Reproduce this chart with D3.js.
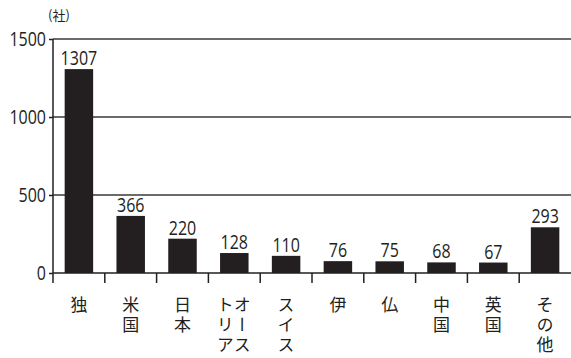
<!DOCTYPE html>
<html>
<head>
<meta charset="utf-8">
<script src="https://cdn.jsdelivr.net/npm/d3@7"></script>
<style>
  body { margin: 0; background: #fff; }
  .num { font-family: "Open Sans", "DejaVu Sans", sans-serif; fill: #231f20; }
  .jp { font-family: "Noto Sans CJK JP", sans-serif; fill: #231f20; }
</style>
</head>
<body>
<div id="chart"></div>
<script>
// countries (columns for vertical text, right column first)
var categories = ["独", "米国", "日本", "オーストリア", "スイス", "伊", "仏", "中国", "英国", "その他"];
var labelColumns = [["独"], ["米国"], ["日本"], ["オース", "トリア"], ["スイス"], ["伊"], ["仏"], ["中国"], ["英国"], ["その他"]];
var values = [1307, 366, 220, 128, 110, 76, 75, 68, 67, 293];
var yTicks = [0, 500, 1000, 1500];
var unitLabel = "(社)";

var W = 571, H = 358;
var margin = { top: 39, right: 0, bottom: 85, left: 53 };
var width = W - margin.left - margin.right;
var height = H - margin.top - margin.bottom;
var squeeze = 0.8; // condensed look for numbers

var svg = d3.select("#chart").append("svg")
    .attr("width", W)
    .attr("height", H)
    .append("g")
    .attr("transform", "translate(" + margin.left + "," + margin.top + ")");

var x = d3.scaleBand()
    .domain(categories)
    .range([0, width])
    .paddingInner(0.45)
    .paddingOuter(0.225);

var y = d3.scaleLinear()
    .domain([0, 1500])
    .range([height, 0]);

function numLabel(px, py, txt, anchor) {
    svg.append("text")
        .attr("class", "num")
        .attr("transform", "translate(" + px + "," + py + ") scale(" + squeeze + ",1)")
        .attr("text-anchor", anchor)
        .attr("font-size", 20)
        .text(txt);
}

// gridlines
svg.selectAll(".grid")
    .data(yTicks.filter(function(d){ return d > 0; }))
    .enter().append("line")
    .attr("x1", 0).attr("x2", width)
    .attr("y1", function(d){ return y(d); })
    .attr("y2", function(d){ return y(d); })
    .attr("stroke", "#3a3a3a")
    .attr("stroke-width", 1.5);

// bars
svg.selectAll(".bar")
    .data(values)
    .enter().append("rect")
    .attr("class", "bar")
    .attr("x", function(d, i){ return x(categories[i]); })
    .attr("width", x.bandwidth())
    .attr("y", function(d){ return y(d); })
    .attr("height", function(d){ return height - y(d); })
    .attr("fill", "#231f20");

// value labels
values.forEach(function(d, i){
    numLabel(x(categories[i]) + x.bandwidth() / 2, y(d) - 4, d, "middle");
});

// y axis
var yAxis = d3.axisLeft(y).tickValues(yTicks).tickSize(4).tickFormat(d3.format("d"));
var yg = svg.append("g").call(yAxis);
yg.select(".domain").remove();
yg.selectAll(".tick line").attr("stroke", "#231f20").attr("stroke-width", 1.5);
yg.selectAll(".tick text").remove();
yTicks.forEach(function(t){
    numLabel(-7, y(t) + 7, t, "end");
});

svg.append("line")
    .attr("x1", 0).attr("x2", 0)
    .attr("y1", 0).attr("y2", height + 10)
    .attr("stroke", "#231f20").attr("stroke-width", 1.5);

// x axis baseline and band separators
svg.append("line")
    .attr("x1", 0).attr("x2", width)
    .attr("y1", height).attr("y2", height)
    .attr("stroke", "#231f20").attr("stroke-width", 1.5);

var step = x.step();
var bounds = categories.slice(1).map(function(c){ return x(c) - x.paddingInner() * step / 2; });
svg.selectAll(".sep")
    .data(bounds)
    .enter().append("line")
    .attr("x1", function(d){ return d; }).attr("x2", function(d){ return d; })
    .attr("y1", height).attr("y2", height + 10)
    .attr("stroke", "#231f20").attr("stroke-width", 1.5);

// category labels (vertical)
labelColumns.forEach(function(cols, i){
    var cx = x(categories[i]) + x.bandwidth() / 2;
    var n = cols.length;
    cols.forEach(function(txt, j){
        var off = n === 1 ? 0 : (j === 0 ? 8 : -9);
        svg.append("text")
            .attr("class", "jp")
            .attr("x", cx + off)
            .attr("y", height + 23)
            .attr("font-size", 17)
            .style("writing-mode", "vertical-rl")
            .style("letter-spacing", "3px")
            .text(txt);
    });
});

// unit label
svg.append("text")
    .attr("class", "jp")
    .attr("x", 6)
    .attr("y", -19)
    .attr("text-anchor", "middle")
    .attr("font-size", 13)
    .text(unitLabel);
</script>
</body>
</html>
